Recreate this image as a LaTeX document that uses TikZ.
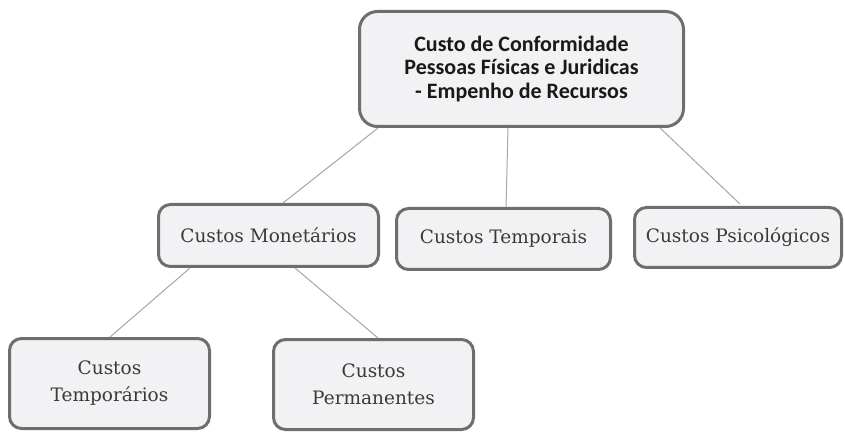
\documentclass[tikz,border=0pt]{standalone}
\usepackage{fontspec}
\setmainfont{DejaVu Serif}
\newfontfamily\topfont{Carlito}
\definecolor{boxfill}{HTML}{F2F2F4}
\definecolor{boxline}{HTML}{6E6E6E}
\definecolor{linkline}{HTML}{A6A6A6}
\definecolor{txt}{HTML}{3A3A3A}
\begin{document}
\begin{tikzpicture}[x=1pt,y=-1pt,
  box/.style={draw=boxline, line width=3pt, fill=boxfill, rounded corners=12pt, align=center, inner sep=0pt, text=txt},
  link/.style={draw=linkline, line width=1pt}]
\useasboundingbox (0,0) rectangle (845,435);
\node[box, minimum width=324pt, minimum height=115pt, rounded corners=18pt, text=black!90, font=\topfont\bfseries\fontsize{22}{23.5}\selectfont] (top) at (521.5,69) {Custo de Conformidade\\Pessoas Físicas e Juridicas\\- Empenho de Recursos};
\node[box, minimum width=220pt, minimum height=62pt, font=\fontsize{18.5}{20}\selectfont] (mon) at (268.5,235.5) {Custos Monetários};
\node[box, minimum width=214pt, minimum height=61pt, font=\fontsize{18.5}{20}\selectfont] (tmp) at (503.5,239) {Custos Temporais};
\node[box, minimum width=207pt, minimum height=60pt, font=\fontsize{18.5}{20}\selectfont] (psi) at (738,237.5) {Custos Psicológicos};
\node[box, minimum width=200pt, minimum height=90pt, font=\fontsize{18.5}{27}\selectfont] (tpr) at (109.5,383.5) {Custos\\Temporários};
\node[box, minimum width=200pt, minimum height=90pt, font=\fontsize{18.5}{27}\selectfont] (per) at (373.5,384.5) {Custos\\Permanentes};
\coordinate (t1) at (378,128);
\coordinate (t2) at (508,128);
\coordinate (t3) at (660,128);
\coordinate (m1) at (190,268);
\coordinate (m2) at (295,268);
\coordinate (e1) at (283,203);
\coordinate (e2) at (506,207);
\coordinate (e3) at (740,204);
\coordinate (e4) at (110,337);
\coordinate (e5) at (378,338);
\draw[link] (t1) -- (e1);
\draw[link] (t2) -- (e2);
\draw[link] (t3) -- (e3);
\draw[link] (m1) -- (e4);
\draw[link] (m2) -- (e5);
\end{tikzpicture}
\end{document}
